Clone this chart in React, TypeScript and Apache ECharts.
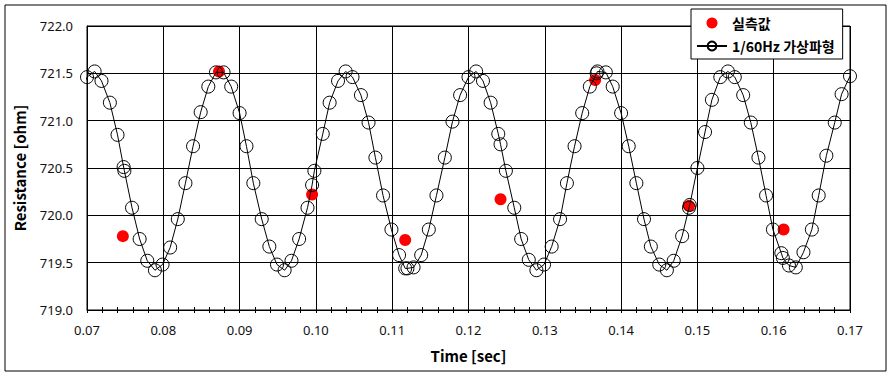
import React, { useEffect, useRef } from "react";
import * as echarts from "echarts";

// 1/60Hz virtual waveform samples (time [sec], resistance [ohm])
const waveTime = [
  0.0692, 0.0700, 0.0710, 0.0719, 0.0730, 0.0740, 0.0748, 0.0749, 0.0759, 0.0769,
  0.0779, 0.0789, 0.0799, 0.0809, 0.0819, 0.0829, 0.0839, 0.0849, 0.0859, 0.0869,
  0.0879, 0.0889, 0.0900, 0.0909, 0.0918, 0.0929, 0.0939, 0.0949, 0.0959, 0.0968,
  0.0978, 0.0989, 0.0995, 0.0998, 0.1009, 0.1018, 0.1029, 0.1039, 0.1048, 0.1059,
  0.1069, 0.1078, 0.1088, 0.1099, 0.1109, 0.1117, 0.1120, 0.1128, 0.1138, 0.1148,
  0.1158, 0.1169, 0.1179, 0.1189, 0.1200, 0.1210, 0.1219, 0.1229, 0.1239, 0.1242,
  0.1249, 0.1260, 0.1269, 0.1279, 0.1289, 0.1299, 0.1309, 0.1320, 0.1329, 0.1339,
  0.1349, 0.1359, 0.1368, 0.1369, 0.1380, 0.1389, 0.1400, 0.1410, 0.1420, 0.1430,
  0.1439, 0.1450, 0.1460, 0.1469, 0.1480, 0.1489, 0.1490, 0.1500, 0.1510, 0.1519,
  0.1530, 0.1540, 0.1549, 0.1560, 0.1570, 0.1580, 0.1590, 0.1599, 0.1610, 0.1612,
  0.1620, 0.1629, 0.1639, 0.1650, 0.1659, 0.1669, 0.1680, 0.1689, 0.1700,
];
const waveValue = [
  721.30, 721.46, 721.52, 721.42, 721.19, 720.85, 720.51, 720.47, 720.08, 719.75,
  719.52, 719.42, 719.48, 719.66, 719.96, 720.34, 720.73, 721.09, 721.36, 721.51,
  721.51, 721.36, 721.08, 720.73, 720.34, 719.96, 719.67, 719.48, 719.42, 719.52,
  719.75, 720.08, 720.32, 720.47, 720.86, 721.19, 721.42, 721.52, 721.46, 721.27,
  720.98, 720.61, 720.21, 719.85, 719.58, 719.44, 719.44, 719.45, 719.58, 719.85,
  720.21, 720.61, 720.99, 721.27, 721.46, 721.52, 721.42, 721.19, 720.86, 720.75,
  720.47, 720.08, 719.75, 719.53, 719.42, 719.48, 719.67, 719.96, 720.34, 720.73,
  721.08, 721.36, 721.50, 721.52, 721.51, 721.36, 721.08, 720.73, 720.34, 719.96,
  719.67, 719.48, 719.42, 719.52, 719.78, 720.08, 720.11, 720.50, 720.88, 721.22,
  721.46, 721.52, 721.46, 721.27, 720.98, 720.61, 720.21, 719.85, 719.60, 719.55,
  719.47, 719.45, 719.61, 719.85, 720.21, 720.63, 720.98, 721.28, 721.47,
];

// measured values (실측값)
const measTime = [0.0747, 0.0873, 0.0995, 0.1117, 0.1242, 0.1366, 0.1489, 0.1613];
const measValue = [719.78, 721.52, 720.22, 719.74, 720.17, 721.43, 720.10, 719.85];

const xTicks = { min: 0.07, max: 0.17, step: 0.01 };
const yTicks = { min: 719.0, max: 722.0, step: 0.5 };

const seriesNames = ["실측값", "1/60Hz 가상파형"];

const LABEL_FONT = "'Noto Sans', 'Noto Sans CJK KR', sans-serif";
const KR_FONT = "'Noto Sans CJK KR', 'Noto Sans', sans-serif";

export default function App() {
  const ref = useRef<HTMLDivElement>(null);

  useEffect(() => {
    if (!ref.current) return;
    const chart = echarts.init(ref.current, null, { renderer: "svg" });

    const waveData = waveTime.map((t, i) => {
      if (t < xTicks.min) {
        return { value: [t, waveValue[i]], symbol: "none" };
      }
      return { value: [t, waveValue[i]] };
    });
    const measData = measTime.map((t, i) => [t, measValue[i]]);

    const baseX = {
      type: "value",
      min: xTicks.min,
      max: xTicks.max,
      interval: xTicks.step,
      position: "bottom",
    };

    chart.setOption({
      animation: false,
      backgroundColor: "#fff",
      grid: {
        left: 87,
        right: 43,
        top: 26,
        bottom: 67,
        show: true,
        borderColor: "#000",
        borderWidth: 1,
        backgroundColor: "transparent",
      },
      xAxis: [
        {
          ...baseX,
          name: "Time [sec]",
          nameLocation: "middle",
          nameGap: 38,
          nameTextStyle: {
            fontFamily: KR_FONT,
            fontWeight: "bold",
            fontSize: 15,
            color: "#000",
          },
          axisLine: { show: true, lineStyle: { color: "#000", width: 1 } },
          axisTick: { show: true, inside: false, length: 3, lineStyle: { color: "#000" } },
          minorTick: { show: true, splitNumber: 5, length: 3, lineStyle: { color: "#000" } },
          axisLabel: {
            margin: 13,
            fontFamily: LABEL_FONT,
            fontSize: 13,
            color: "#111",
            formatter: (v: number) => v.toFixed(2),
          },
          splitLine: { show: true, lineStyle: { color: "#000", width: 1 } },
        },
        {
          ...baseX,
          axisLine: { show: false },
          axisTick: { show: true, inside: true, length: 3, lineStyle: { color: "#000" } },
          minorTick: { show: true, splitNumber: 5, length: 3, lineStyle: { color: "#000" } },
          axisLabel: { show: false },
          splitLine: { show: false },
        },
      ],
      yAxis: {
        type: "value",
        min: yTicks.min,
        max: yTicks.max,
        interval: yTicks.step,
        name: "Resistance [ohm]",
        nameLocation: "middle",
        nameRotate: 90,
        nameGap: 60,
        nameTextStyle: {
          fontFamily: KR_FONT,
          fontWeight: "bold",
          fontSize: 15,
          color: "#000",
        },
        axisLine: { show: true, lineStyle: { color: "#000", width: 1 } },
        axisTick: { show: true, inside: true, length: 3, lineStyle: { color: "#000" } },
        axisLabel: {
          margin: 14,
          fontFamily: LABEL_FONT,
          fontSize: 13,
          color: "#111",
          formatter: (v: number) => v.toFixed(1),
        },
        splitLine: { show: true, lineStyle: { color: "#000", width: 1 } },
      },
      legend: {
        show: true,
        data: seriesNames,
        orient: "vertical",
        left: 691,
        top: 9,
        padding: [6, 8, 5, 5],
        itemGap: 7,
        itemWidth: 30,
        itemHeight: 11,
        backgroundColor: "#fff",
        borderColor: "#000",
        borderWidth: 1,
        borderRadius: 0,
        textStyle: {
          fontFamily: KR_FONT,
          fontWeight: "bold",
          fontSize: 14,
          lineHeight: 16,
          color: "#000",
        },
      },
      graphic: [
        {
          type: "rect",
          shape: { x: 5, y: 5, width: 881, height: 366 },
          style: { fill: "none", stroke: "#000", lineWidth: 1 },
          silent: true,
          z: -10,
        },
      ],
      series: [
        {
          name: seriesNames[0],
          type: "scatter",
          data: measData,
          symbol: "circle",
          symbolSize: 12,
          itemStyle: { color: "#ff0000", opacity: 1 },
          z: 2,
        },
        {
          name: seriesNames[1],
          type: "line",
          data: waveData,
          clip: false,
          symbol: "circle",
          symbolSize: 13,
          showAllSymbol: true,
          lineStyle: { color: "#000", width: 1 },
          itemStyle: { color: "transparent", borderColor: "#000", borderWidth: 1 },
          z: 3,
        },
      ],
    });

    return () => chart.dispose();
  }, []);

  return (
    <div
      ref={ref}
      style={{ position: "fixed", left: 0, top: 0, width: 893, height: 377 }}
    />
  );
}
